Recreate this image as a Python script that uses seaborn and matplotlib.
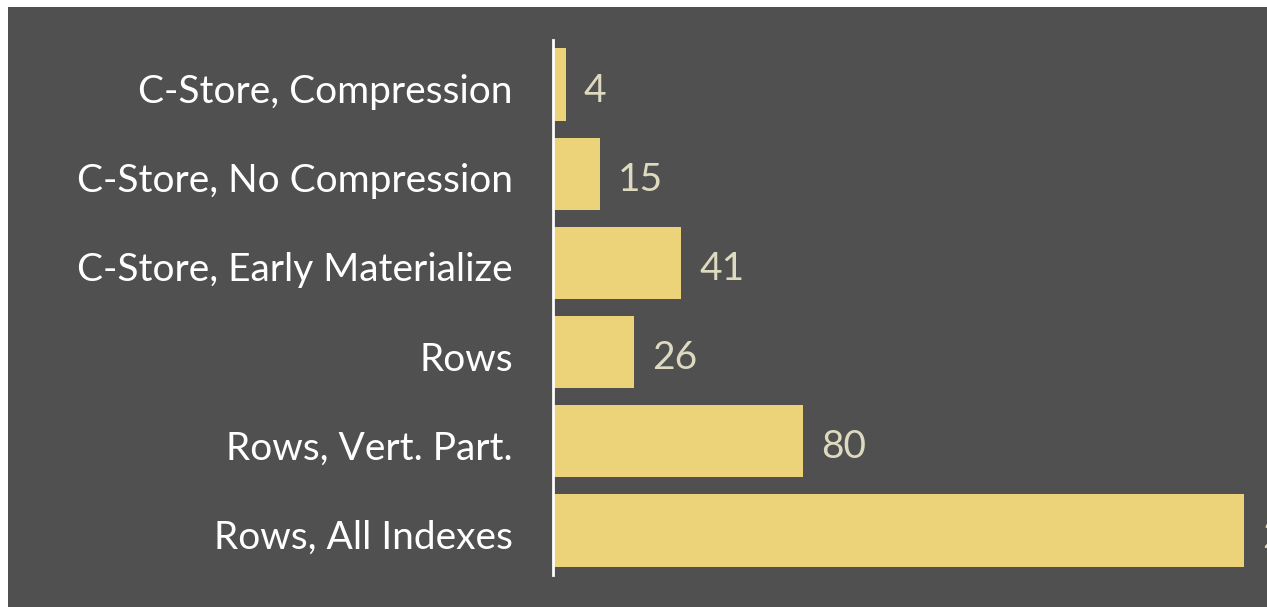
import matplotlib
matplotlib.use("Agg")
import matplotlib.pyplot as plt
import matplotlib.transforms as mtransforms
import seaborn as sns
import pandas as pd

# data
categories = ["C-Store, Compression", "C-Store, No Compression",
              "C-Store, Early Materialize", "Rows", "Rows, Vert. Part.",
              "Rows, All Indexes"]
values = [4, 15, 41, 26, 80, 221]

BG = "#505050"
BAR = "#ECD37A"
VAL = "#DEDAC0"

sns.set_theme(style="white")
plt.rcParams['font.family'] = ['Lato', 'DejaVu Sans']

W, H = 1267, 607
fig = plt.figure(figsize=(W / 100, H / 100), dpi=100, facecolor="white")

# dark panel behind everything
bg = fig.add_axes([8 / W, 0, 1 - 8 / W, (H - 7) / H])
bg.set_facecolor(BG)
bg.set_xticks([])
bg.set_yticks([])
for s in bg.spines.values():
    s.set_visible(False)

x0, x1 = 553, W
y_top, y_bot = 40, 575
ax = fig.add_axes([x0 / W, (H - y_bot) / H, (x1 - x0) / W, (y_bot - y_top) / H])
ax.patch.set_alpha(0)

df = pd.DataFrame({"config": categories, "value": values})
sns.barplot(data=df, x="value", y="config", orient="h", color=BAR,
            saturation=1, width=0.81, linewidth=0, edgecolor="none", ax=ax)

ax.set_xlim(0, (x1 - x0) / 3.125)
ax.set_ylim(5.5, -0.5)
ax.set_xlabel("")
ax.set_ylabel("")
ax.set_xticks([])
ax.tick_params(axis="y", length=0, pad=29, labelsize=28, labelcolor="white")

# nudge text down a little, Calibri sits lower in the original
shift = mtransforms.ScaledTranslation(0, -4 / 100, fig.dpi_scale_trans)
for lbl in ax.get_yticklabels():
    lbl.set_transform(lbl.get_transform() + shift)

for side in ["top", "right", "bottom"]:
    ax.spines[side].set_visible(False)
ax.spines["left"].set_color("white")
ax.spines["left"].set_linewidth(2)

texts = ax.bar_label(ax.containers[0], labels=[str(v) for v in values], padding=13,
                     fontsize=28, color=VAL, clip_on=False)
for t in texts:
    t.xyann = (13, -4.5)   # offset points

fig.savefig("out.png", dpi=100, facecolor="white")
